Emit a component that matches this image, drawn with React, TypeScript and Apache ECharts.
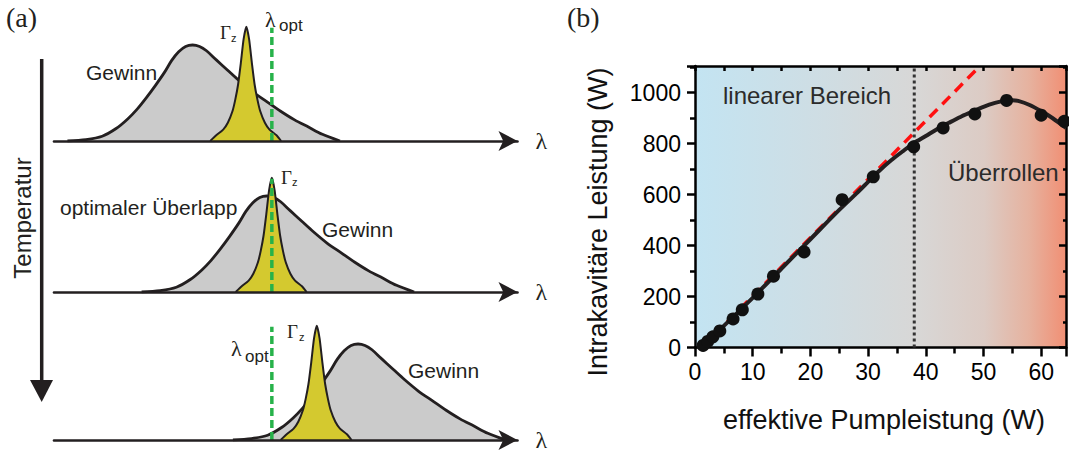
import React, { useEffect, useRef } from 'react';
import * as echarts from 'echarts';

// ---------- Panel (a): schematic spectra ----------
// gain profile (relative wavelength offset from the gain maximum, normalised height)
const gainDx = [-27, -23, -19.5, -16.5, -14, -12, -10, -8, -6, -4.5, -3, -1.5, 0, 1.5, 3, 5, 7.5, 10, 13, 16, 19, 22, 25, 28, 31.8];
const gainH = [0, 0.015, 0.05, 0.13, 0.23, 0.33, 0.45, 0.58, 0.72, 0.84, 0.93, 0.985, 1, 0.985, 0.94, 0.85, 0.74, 0.63, 0.51, 0.41, 0.31, 0.22, 0.145, 0.07, 0];
// cavity resonance Γz profile
const peakDx = [-7.8, -6.5, -5, -4, -3, -2.4, -1.8, -1.2, -0.6, 0, 0.6, 1.2, 1.8, 2.4, 3, 4, 5, 6.5, 7.5];
const peakH = [0, 0.05, 0.1, 0.16, 0.26, 0.36, 0.49, 0.68, 0.89, 1, 0.89, 0.68, 0.49, 0.36, 0.26, 0.16, 0.1, 0.05, 0];
// positions for the three temperatures (top, middle, bottom)
const gainCenters = [29.9, 45.9, 65.6];
const peakCenters = [41.5, 47.0, 56.7];
const lambdaOpt = 47.0;
const peakHeight = 1.19;
const lambdaLineTop = 1.18;

// ---------- Panel (b): measured data ----------
const pumpPower = [1.4, 2.2, 3.1, 4.3, 6.6, 8.2, 10.9, 13.6, 18.9, 25.5, 30.9, 37.9, 43.0, 48.5, 54.0, 60.0, 64.0];
const intraPower = [8, 24, 42, 65, 112, 148, 210, 280, 375, 580, 670, 788, 862, 917, 970, 912, 888];
const fitX = [1.3, 5, 10, 15, 20, 25, 28, 30, 32, 34, 36, 38, 40, 42, 44, 46, 48, 50, 52, 54, 55, 56, 58, 60, 62, 64.3];
const fitY = [0, 85, 195, 310, 425, 540, 605, 650, 695, 735, 770, 803, 830, 858, 882, 905, 925, 945, 960, 970, 971, 968, 952, 928, 900, 862];
const linX = [1.2, 49.4];
const linY = [0, 1105];
const splitX = 38;

const ink = '#231f20';
const sans = "'Liberation Sans', Arial, sans-serif";
const serif = "'Liberation Serif', 'Times New Roman', serif";

function txt(x: number, y: number, text: string, font: string, extra: any = {}) {
  return {
    type: 'text', x, y, z: 20,
    style: {
      text, font, fill: ink,
      align: 'left', verticalAlign: 'middle',
      textAlign: 'left', textVerticalAlign: 'middle',
      ...extra,
    },
  };
}

export default function App() {
  const ref = useRef<HTMLDivElement>(null);
  useEffect(() => {
    if (!ref.current) return;
    const chart = echarts.init(ref.current, undefined, { renderer: 'svg' });
    const rowBase = [141, 292, 440];
    const grids: any[] = [];
    const xAxes: any[] = [];
    const yAxes: any[] = [];
    const series: any[] = [];

    rowBase.forEach((b, i) => {
      grids.push({ left: 54, top: b - 120, width: 463.5, height: 120 });
      xAxes.push({
        gridIndex: i, type: 'value', min: 0, max: 100, z: 10,
        axisLine: { show: true, onZero: false, symbol: ['none', 'arrow'], symbolSize: [15, 19], lineStyle: { color: ink, width: 2.6 } },
        axisTick: { show: false }, axisLabel: { show: false }, splitLine: { show: false },
        name: 'λ', nameLocation: 'end', nameGap: 18,
        nameTextStyle: { fontSize: 24, fontFamily: serif, color: ink },
      });
      yAxes.push({ gridIndex: i, type: 'value', min: 0, max: 1.25, show: false });
      series.push({
        type: 'line', xAxisIndex: i, yAxisIndex: i, symbol: 'none', smooth: 0.3, z: 2,
        data: gainDx.map((d, k) => [gainCenters[i] + d, gainH[k]]),
        lineStyle: { color: ink, width: 2.8 },
        areaStyle: { color: '#cbcbcb', opacity: 1 },
      });
      series.push({
        type: 'line', xAxisIndex: i, yAxisIndex: i, symbol: 'none', smooth: 0.2, z: 3,
        data: peakDx.map((d, k) => [peakCenters[i] + d, peakH[k] * peakHeight]),
        lineStyle: { color: ink, width: 2 },
        areaStyle: { color: '#d4c92f', opacity: 1 },
      });
      series.push({
        type: 'line', xAxisIndex: i, yAxisIndex: i, symbol: 'none', z: 4,
        data: [[lambdaOpt, 0], [lambdaOpt, lambdaLineTop]],
        lineStyle: { color: '#27b24a', width: 3.5, type: [8, 4] },
      });
    });

    // panel (b)
    grids.push({
      left: 695, top: 66, right: -1, bottom: 106.5, show: true, borderWidth: 0,
      backgroundColor: new echarts.graphic.LinearGradient(0, 0, 1, 0, [
        { offset: 0, color: '#c3e4f2' },
        { offset: 0.35, color: '#cfdde3' },
        { offset: 0.6, color: '#d8d7d6' },
        { offset: 0.78, color: '#dccbc4' },
        { offset: 0.9, color: '#e6b29f' },
        { offset: 1, color: '#f18f74' },
      ]),
    });
    const axLine = { show: true, onZero: false, lineStyle: { color: '#000', width: 2.5 } };
    xAxes.push({
      gridIndex: 3, type: 'value', position: 'bottom', min: 0, max: 64.3, interval: 10,
      axisLine: axLine,
      axisTick: { show: true, length: 9, lineStyle: { color: '#000', width: 2.5 } },
      minorTick: { show: true, splitNumber: 2, length: 6, lineStyle: { color: '#000', width: 2.5 } },
      axisLabel: { fontSize: 23, color: '#000', fontFamily: sans, margin: 13, formatter: (v: number) => (Math.abs(v % 10) < 1e-6 ? String(v) : '') },
      splitLine: { show: false }, minorSplitLine: { show: false },
    });
    xAxes.push({
      gridIndex: 3, type: 'value', position: 'top', min: 0, max: 64.3, interval: 5,
      axisLine: axLine,
      axisTick: { show: true, inside: true, length: 5, lineStyle: { color: '#000', width: 2.5 } },
      axisLabel: { show: false }, splitLine: { show: false },
    });
    yAxes.push({
      gridIndex: 3, type: 'value', position: 'left', min: 0, max: 1105, interval: 200,
      axisLine: axLine,
      axisTick: { show: true, length: 8, lineStyle: { color: '#000', width: 2.5 } },
      minorTick: { show: true, splitNumber: 2, length: 5, lineStyle: { color: '#000', width: 2.5 } },
      axisLabel: { fontSize: 23, color: '#000', fontFamily: sans, margin: 14, formatter: (v: number) => (Math.abs(v % 200) < 1e-6 ? String(v) : '') },
      splitLine: { show: false },
    });
    yAxes.push({
      gridIndex: 3, type: 'value', position: 'right', min: 0, max: 1105, interval: 200,
      axisLine: axLine,
      axisTick: { show: true, inside: true, length: 7, lineStyle: { color: '#000', width: 2.5 } },
      minorTick: { show: true, splitNumber: 2, length: 3, lineStyle: { color: '#000', width: 2.5 } },
      axisLabel: { show: false }, splitLine: { show: false },
    });
    series.push({
      type: 'line', xAxisIndex: 3, yAxisIndex: 3, symbol: 'none', z: 3,
      data: linX.map((x, k) => [x, linY[k]]),
      lineStyle: { color: '#ff1010', width: 3.5, type: [11, 7] },
    });
    series.push({
      type: 'line', xAxisIndex: 3, yAxisIndex: 3, symbol: 'none', z: 3,
      data: [[splitX, 0], [splitX, 1105]],
      lineStyle: { color: '#333', width: 3, type: [3, 3] },
    });
    series.push({
      type: 'line', xAxisIndex: 3, yAxisIndex: 3, symbol: 'none', smooth: 0.3, z: 4,
      data: fitX.map((x, k) => [x, fitY[k]]),
      lineStyle: { color: ink, width: 4 },
    });
    series.push({
      type: 'scatter', xAxisIndex: 3, yAxisIndex: 3, symbolSize: 13, z: 5,
      data: pumpPower.map((x, k) => [x, intraPower[k]]),
      itemStyle: { color: '#111', opacity: 1 },
    });

    const f21 = `21px ${sans}`;
    const graphic: any[] = [
      txt(6, 17, '(a)', `28px ${serif}`),
      txt(567, 17, '(b)', `28px ${serif}`),
      // top row
      txt(86, 72, 'Gewinn', f21),
      txt(220, 32, 'Γ', `19px ${serif}`),
      txt(231, 38, 'z', `11px ${sans}`),
      txt(265, 19, 'λ', `22px ${serif}`),
      txt(279, 25, 'opt', `17px ${sans}`),
      // middle row
      txt(60, 207, 'optimaler Überlapp', f21),
      txt(281, 177, 'Γ', `19px ${serif}`),
      txt(292, 182, 'z', `11px ${sans}`),
      txt(322, 229, 'Gewinn', f21),
      // bottom row
      txt(231, 348, 'λ', `22px ${serif}`),
      txt(245, 356, 'opt', `17px ${sans}`),
      txt(287, 331, 'Γ', `19px ${serif}`),
      txt(299, 337, 'z', `11px ${sans}`),
      txt(408, 370, 'Gewinn', f21),
      // temperature arrow
      { type: 'line', z: 20, shape: { x1: 41.7, y1: 59, x2: 41.7, y2: 385 }, style: { stroke: ink, lineWidth: 3.5 } },
      { type: 'polygon', z: 20, shape: { points: [[30, 380], [53, 380], [41.7, 402]] }, style: { fill: ink } },
      txt(22, 218, 'Temperatur', `24px ${sans}`, { align: 'center', textAlign: 'center' }),
      // panel (b) annotations
      txt(723, 95, 'linearer Bereich', `24px ${sans}`, { fill: '#2b2b2b' }),
      txt(948, 172, 'Überrollen', `24px ${sans}`, { fill: '#2b2b2b' }),
      txt(884, 420, 'effektive Pumpleistung (W)', `27px ${sans}`, { align: 'center', textAlign: 'center', fill: '#111' }),
      { ...txt(598, 222, 'Intrakavitäre Leistung (W)', `27px ${sans}`, { align: 'center', textAlign: 'center', fill: '#111' }), rotation: Math.PI / 2 },
    ];
    graphic[18] = { ...graphic[18], rotation: Math.PI / 2 };

    chart.setOption({
      animation: false,
      grid: grids,
      xAxis: xAxes,
      yAxis: yAxes,
      series,
      graphic: { elements: graphic },
    });
    return () => chart.dispose();
  }, []);
  return <div ref={ref} style={{ position: 'fixed', left: 0, top: 0, width: 1069, height: 454, background: '#fff' }} />;
}
